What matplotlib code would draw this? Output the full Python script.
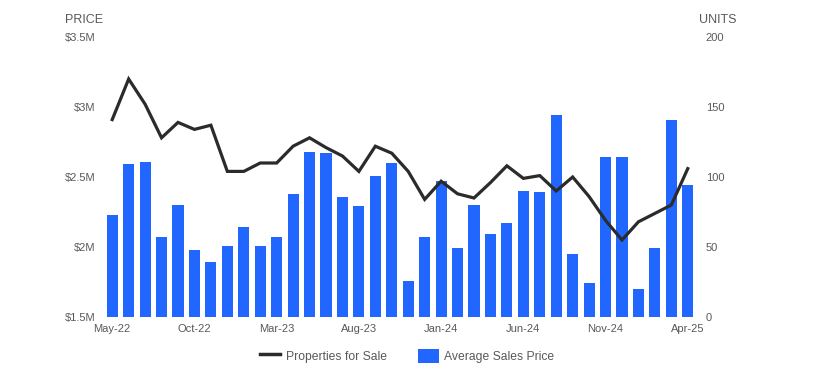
import matplotlib.pyplot as plt
from matplotlib.lines import Line2D
from matplotlib.patches import Patch

plt.rcParams['font.family'] = ['Liberation Sans', 'DejaVu Sans']

months = ['May-22', 'Jun-22', 'Jul-22', 'Aug-22', 'Sep-22', 'Oct-22', 'Nov-22', 'Dec-22',
          'Jan-23', 'Feb-23', 'Mar-23', 'Apr-23', 'May-23', 'Jun-23', 'Jul-23', 'Aug-23',
          'Sep-23', 'Oct-23', 'Nov-23', 'Dec-23', 'Jan-24', 'Feb-24', 'Mar-24', 'Apr-24',
          'May-24', 'Jun-24', 'Jul-24', 'Aug-24', 'Sep-24', 'Oct-24', 'Nov-24', 'Dec-24',
          'Jan-25', 'Feb-25', 'Mar-25', 'Apr-25']

# average sales price, $M
avg_price = [2.23, 2.59, 2.61, 2.07, 2.30, 1.98, 1.89, 2.01, 2.14, 2.01, 2.07, 2.38,
             2.68, 2.67, 2.36, 2.29, 2.51, 2.60, 1.76, 2.07, 2.47, 1.99, 2.30, 2.09,
             2.17, 2.40, 2.39, 2.94, 1.95, 1.74, 2.64, 2.64, 1.70, 1.99, 2.91, 2.44]

# properties for sale, units
for_sale = [141, 170, 152, 128, 139, 134, 137, 104, 104, 110, 110, 122,
            128, 121, 115, 104, 122, 117, 104, 84, 97, 88, 85, 96,
            108, 99, 101, 90, 100, 86, 69, 55, 68, 74, 80, 106]

price_ticks = [1.5, 2.0, 2.5, 3.0, 3.5]
price_labels = ['$1.5M', '$2M', '$2.5M', '$3M', '$3.5M']
unit_ticks = [0, 50, 100, 150, 200]

bar_color = '#2167ff'
line_color = '#2b2b2b'
text_color = '#595959'

fig = plt.figure(figsize=(8.14, 3.8), dpi=100)
ax = fig.add_axes([104 / 814, 63 / 380, 592 / 814, 280 / 380])
ax2 = ax.twinx()

x = list(range(len(months)))
ax.bar(x, [p - 1.5 for p in avg_price], bottom=1.5, width=0.68, color=bar_color)
ax2.plot(x, for_sale, color=line_color, linewidth=2.3, solid_joinstyle='miter')

ax.set_xlim(-0.5, len(months) - 0.5)
ax.set_ylim(1.5, 3.5)
ax2.set_ylim(0, 200)

ax.set_yticks(price_ticks)
ax.set_yticklabels(price_labels)
ax2.set_yticks(unit_ticks)
ax.set_xticks(x[::5])
ax.set_xticklabels(months[::5])

for a in (ax, ax2):
    for s in a.spines.values():
        s.set_visible(False)
    a.tick_params(length=0, labelsize=8, colors=text_color)
ax.tick_params(axis='y', pad=6)
ax2.tick_params(axis='y', pad=7)
ax.tick_params(axis='x', pad=5)

fig.text(65 / 814, 1 - 20 / 380, 'PRICE', fontsize=9, color=text_color, va='center')
fig.text(699 / 814, 1 - 20 / 380, 'UNITS', fontsize=9, color=text_color, va='center')

handles = [Line2D([0], [0], color=line_color, linewidth=2.5),
           Patch(facecolor=bar_color)]
fig.legend(handles, ['Properties for Sale', 'Average Sales Price'],
           loc='center', bbox_to_anchor=(407 / 814, 1 - 356 / 380), ncol=2,
           frameon=False, fontsize=8.7, labelcolor=text_color,
           handlelength=1.7, handleheight=1.5, handletextpad=0.45, columnspacing=2.6)

fig.savefig('out.png', dpi=100)
